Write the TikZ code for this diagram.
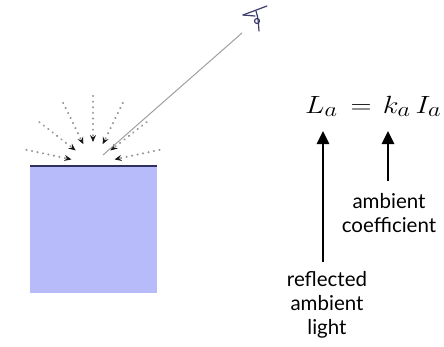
\documentclass[tikz,border=0pt]{standalone}
\usepackage{fontspec}
\setsansfont{Lato}
\usetikzlibrary{arrows.meta}
\definecolor{slab}{RGB}{184,187,250}
\definecolor{edge}{RGB}{48,48,96}
\definecolor{eyecol}{RGB}{60,60,110}
\begin{document}
\begin{tikzpicture}[x=1pt,y=-1pt,
  ray/.style={gray!85, line width=2.2pt, dash pattern=on 0.1pt off 5.5pt, line cap=round,
    -{Stealth[length=7pt,width=6pt,black!90]}},
  sight/.style={gray!75, line width=1pt},
  bigarrow/.style={line width=2.8pt, -{Triangle[length=13pt,width=12pt]}},
  lab/.style={font=\sffamily\fontsize{20.5}{24}\selectfont, align=center, inner sep=0pt, anchor=north},
  eyeline/.style={eyecol, line width=1.2pt, line cap=round, line join=round}]
\useasboundingbox (0,0) rectangle (444,346);
% slab
\fill[slab] (30,166) rectangle (157,293);
\draw[edge, line width=2pt] (30,165.5) -- (157,165.5);
% rays
\coordinate (c) at (93,164);
\foreach \a in {12,38,64,90,116,142,168}
  \draw[ray] ([shift={(\a:68pt)}]c) -- ([shift={(\a:22pt)}]c);
% line of sight to eye
\coordinate (s0) at (103,155);
\coordinate (s1) at (242,33);
\draw[sight] (s0) -- (s1);
% eye
\draw[eyeline] (243,15) -- (267,6);
\draw[eyeline] (243,15) -- (255,16);
\draw[eyeline] (256,11) .. controls (258,18) .. (259,31);
\draw[eyeline] (257,21) circle[radius=2.5pt];
% equation
\node[anchor=base west, inner sep=0pt, font=\fontsize{28}{34}\selectfont] (eq) at (305,113)
  {\scalebox{1.17}[1]{$L_a\mkern3mu=\mkern2mu k_a\mkern3mu I_a$}};
% labels
\node[lab] (refl) at (327,271) {reflected\\ambient\\light};
\node[lab] (coef) at (389,193) {ambient\\coefficient};
\coordinate (a1b) at (323,262);
\coordinate (a1t) at (323,131);
\coordinate (a2b) at (388,181);
\coordinate (a2t) at (388,131);
\draw[bigarrow] (a1b) -- (a1t);
\draw[bigarrow] (a2b) -- (a2t);
\end{tikzpicture}
\end{document}
